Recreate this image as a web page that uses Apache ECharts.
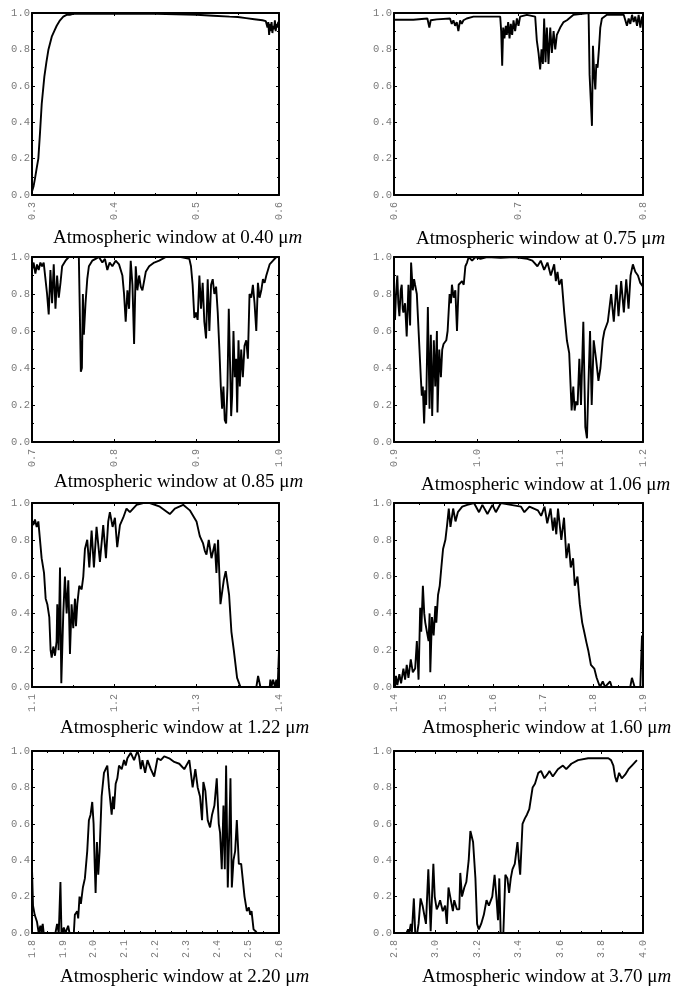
<!DOCTYPE html>
<html>
<head>
<meta charset="utf-8">
<script src="https://cdn.jsdelivr.net/npm/echarts@6/dist/echarts.min.js"></script>
<style>
html,body{margin:0;padding:0;background:#fff;}
#chart{width:673px;height:988px;}
</style>
</head>
<body>
<div id="chart"></div>
<script>
// ---------- DATA ----------
const captions = ['0.40', '0.75', '0.85', '1.06', '1.22', '1.60', '2.20', '3.70'];
const xMins = [0.3, 0.6, 0.7, 0.9, 1.1, 1.4, 1.8, 2.8];
const xMaxs = [0.6, 0.8, 1.0, 1.2, 1.4, 1.9, 2.6, 4.0];
const xSteps = [0.1, 0.1, 0.1, 0.1, 0.1, 0.1, 0.1, 0.2];
const yTicks = [0.0, 0.2, 0.4, 0.6, 0.8, 1.0];

const wl1 = [0.300,0.302,0.3036,0.3058,0.3077,0.3097,0.3118,0.315,0.3175,0.320,0.324,0.327,0.330,0.334,0.338,0.342,0.346,0.35,0.36,0.40,0.45,0.50,0.52,0.54,0.55,0.56,0.57,0.575,0.58,0.584,0.586,0.587,0.588,0.589,0.590,0.591,0.592,0.593,0.594,0.595,0.596,0.597,0.598,0.599,0.600];
const tr1 = [0.02,0.05,0.09,0.15,0.20,0.34,0.50,0.65,0.73,0.80,0.87,0.90,0.93,0.96,0.98,0.99,0.99,0.995,0.995,0.995,0.995,0.99,0.985,0.98,0.978,0.972,0.966,0.963,0.96,0.955,0.92,0.95,0.88,0.94,0.90,0.95,0.89,0.93,0.91,0.96,0.90,0.94,0.92,0.95,0.95];

const wl2 = [0.6,0.6155,0.6169,0.6268,0.6284,0.6295,0.6343,0.6450,0.6464,0.6477,0.6491,0.6504,0.6517,0.6531,0.6544,0.6558,0.6584,0.6638,0.6853,0.6861,0.6869,0.6877,0.6887,0.6898,0.6906,0.6917,0.6928,0.6938,0.6949,0.6960,0.6973,0.6987,0.7000,0.7013,0.7067,0.7134,0.7147,0.7161,0.7174,0.7185,0.7196,0.7206,0.7217,0.7228,0.7241,0.7255,0.7268,0.7282,0.7295,0.7308,0.7335,0.7362,0.7389,0.7442,0.7563,0.7571,0.7582,0.7590,0.7598,0.7609,0.7617,0.7625,0.7635,0.7646,0.7657,0.7670,0.7710,0.7845,0.7858,0.7871,0.7885,0.7898,0.7912,0.7925,0.7938,0.7952,0.7965,0.7979,0.7992,0.8000];
const tr2 = [0.963,0.963,0.97,0.97,0.92,0.96,0.965,0.97,0.94,0.96,0.93,0.95,0.90,0.96,0.94,0.96,0.97,0.98,0.98,0.90,0.71,0.92,0.86,0.93,0.88,0.95,0.86,0.94,0.88,0.96,0.90,0.97,0.93,0.98,0.99,0.98,0.85,0.78,0.69,0.80,0.72,0.97,0.73,0.92,0.72,0.92,0.78,0.90,0.80,0.88,0.92,0.95,0.96,0.99,1.0,0.66,0.50,0.38,0.82,0.65,0.58,0.72,0.70,0.80,0.92,0.97,0.99,0.99,0.96,0.93,0.97,0.94,0.99,0.95,0.98,0.93,0.99,0.92,0.98,0.97];

const wl3 = [0.7,0.7020,0.7041,0.7061,0.7081,0.7102,0.7122,0.7142,0.7163,0.7183,0.7203,0.7224,0.7244,0.7264,0.7285,0.7305,0.7325,0.7346,0.7366,0.7407,0.7447,0.7569,0.7581,0.7593,0.7606,0.7618,0.7630,0.7650,0.7671,0.7691,0.7732,0.7772,0.7813,0.7854,0.7886,0.7915,0.7943,0.7976,0.8016,0.8057,0.8098,0.8118,0.8138,0.8159,0.8179,0.8199,0.8220,0.8240,0.8260,0.8280,0.8301,0.8321,0.8341,0.8382,0.8423,0.8484,0.8545,0.8626,0.8707,0.8809,0.8911,0.8931,0.8951,0.8972,0.8992,0.9012,0.9033,0.9053,0.9073,0.9093,0.9114,0.9134,0.9154,0.9175,0.9195,0.9215,0.9236,0.9256,0.9276,0.9293,0.9309,0.9325,0.9341,0.9358,0.9374,0.9390,0.9407,0.9419,0.9431,0.9447,0.9463,0.9480,0.9492,0.9508,0.9524,0.9541,0.9561,0.9581,0.9602,0.9622,0.9642,0.9663,0.9683,0.9703,0.9724,0.9744,0.9764,0.9785,0.9805,0.9825,0.9846,0.9866,0.9886,0.9907,0.9927,0.9967,1.0];
const tr3 = [0.93,0.97,0.91,0.96,0.93,0.97,0.95,0.97,0.96,0.80,0.69,0.93,0.75,0.96,0.72,0.90,0.78,0.86,0.95,0.98,1.0,1.0,0.70,0.38,0.40,0.80,0.58,0.75,0.88,0.95,0.98,0.99,1.0,0.97,0.99,0.93,0.97,0.95,0.98,0.96,0.90,0.80,0.65,0.82,0.72,0.98,0.85,0.53,0.95,0.82,0.90,0.84,0.82,0.92,0.95,0.97,0.98,1.0,1.0,1.0,0.99,0.95,0.85,0.67,0.70,0.66,0.90,0.72,0.86,0.65,0.56,0.88,0.60,0.85,0.88,0.80,0.84,0.70,0.50,0.30,0.18,0.30,0.12,0.10,0.30,0.72,0.40,0.14,0.25,0.60,0.35,0.45,0.16,0.55,0.30,0.50,0.35,0.52,0.55,0.45,0.80,0.78,0.85,0.75,0.60,0.86,0.78,0.82,0.88,0.86,0.90,0.93,0.96,0.95,0.98,1.0,1.0];

const wl4 = [0.9000,0.9012,0.9024,0.9040,0.9052,0.9065,0.9081,0.9093,0.9105,0.9113,0.9133,0.9153,0.9174,0.9186,0.9194,0.9206,0.9226,0.9242,0.9254,0.9275,0.9291,0.9307,0.9323,0.9335,0.9347,0.9363,0.9375,0.9388,0.9408,0.9428,0.9444,0.9460,0.9480,0.9497,0.9517,0.9525,0.9545,0.9565,0.9581,0.9597,0.9630,0.9646,0.9670,0.9686,0.9698,0.9719,0.9739,0.9759,0.9779,0.9820,0.9840,0.9860,0.9880,0.9900,0.9941,0.9981,1.0042,1.0122,1.0284,1.0445,1.0607,1.0667,1.0728,1.0768,1.0809,1.0849,1.0889,1.0930,1.0950,1.0970,1.0990,1.1019,1.1051,1.1083,1.1111,1.1140,1.1160,1.1176,1.1192,1.1212,1.1233,1.1253,1.1281,1.1305,1.1325,1.1342,1.1362,1.1382,1.1406,1.1434,1.1463,1.1487,1.1515,1.1535,1.1576,1.1616,1.1648,1.1680,1.1705,1.1737,1.1769,1.1798,1.1826,1.1850,1.1878,1.1907,1.1939,1.1967,1.2000];
const tr4 = [0.70,0.66,0.80,0.90,0.75,0.68,0.82,0.85,0.72,0.70,0.75,0.57,0.85,0.72,0.63,0.97,0.82,0.88,0.85,0.80,0.65,0.50,0.35,0.25,0.30,0.10,0.28,0.20,0.73,0.18,0.58,0.14,0.55,0.30,0.60,0.16,0.50,0.35,0.50,0.53,0.55,0.60,0.80,0.75,0.85,0.78,0.82,0.60,0.85,0.87,0.85,0.95,0.97,1.0,0.98,1.0,0.99,1.0,0.995,1.0,0.99,0.98,0.95,0.98,0.93,0.97,0.90,0.96,0.87,0.92,0.85,0.88,0.70,0.55,0.48,0.17,0.30,0.17,0.22,0.20,0.45,0.20,0.65,0.08,0.02,0.30,0.60,0.20,0.55,0.45,0.33,0.40,0.55,0.60,0.65,0.80,0.65,0.85,0.68,0.87,0.70,0.88,0.72,0.90,0.96,0.92,0.90,0.86,0.84];

const wl5 = [1.1000,1.1016,1.1036,1.1057,1.1077,1.1097,1.1117,1.1146,1.1166,1.1186,1.1210,1.1226,1.1239,1.1259,1.1279,1.1299,1.1307,1.1323,1.1340,1.1356,1.1380,1.1400,1.1421,1.1441,1.1461,1.1481,1.1501,1.1522,1.1534,1.1550,1.1574,1.1603,1.1623,1.1643,1.1671,1.1696,1.1724,1.1752,1.1784,1.1825,1.1865,1.1898,1.1926,1.1946,1.1979,1.2007,1.2035,1.2068,1.2108,1.2148,1.2189,1.2270,1.2351,1.2431,1.2553,1.2674,1.2735,1.2836,1.2917,1.2998,1.3038,1.3078,1.3099,1.3119,1.3147,1.3180,1.3220,1.3240,1.3260,1.3289,1.3329,1.3353,1.3394,1.3422,1.3451,1.3491,1.3532,1.3725,1.3746,1.3774,1.3887,1.3895,1.3908,1.3928,1.3952,1.3968,1.3984,1.4000];
const tr5 = [0.90,0.88,0.91,0.87,0.90,0.89,0.70,0.62,0.48,0.45,0.38,0.20,0.16,0.22,0.17,0.25,0.45,0.20,0.65,0.02,0.40,0.60,0.40,0.58,0.18,0.45,0.32,0.48,0.33,0.45,0.55,0.53,0.60,0.75,0.80,0.65,0.85,0.65,0.87,0.68,0.88,0.70,0.90,0.95,0.87,0.92,0.76,0.88,0.92,0.97,0.95,0.99,1.0,1.0,0.98,0.94,0.97,0.99,0.96,0.90,0.82,0.78,0.74,0.72,0.80,0.70,0.78,0.62,0.80,0.45,0.58,0.63,0.50,0.30,0.20,0.05,0.0,0.0,0.06,0.0,0.0,0.04,0.0,0.04,0.0,0.04,0.0,0.20];

const wl6 = [1.4000,1.4020,1.4040,1.4067,1.4108,1.4142,1.4189,1.4223,1.4256,1.4290,1.4337,1.4378,1.4425,1.4459,1.4493,1.4526,1.4547,1.4580,1.4607,1.4628,1.4661,1.4695,1.4715,1.4729,1.4762,1.4796,1.4830,1.4850,1.4884,1.4918,1.4951,1.4985,1.5032,1.5066,1.5100,1.5134,1.5188,1.5235,1.5282,1.5370,1.5471,1.5606,1.5707,1.5775,1.5876,1.5977,1.6045,1.6146,1.6348,1.6551,1.6618,1.6719,1.6888,1.6955,1.7023,1.7077,1.7144,1.7192,1.7225,1.7259,1.7293,1.7360,1.7414,1.7462,1.7509,1.7549,1.7596,1.7630,1.7684,1.7731,1.7779,1.7819,1.7866,1.7900,1.7954,1.8022,1.8069,1.8136,1.8192,1.8238,1.8339,1.8373,1.8744,1.8778,1.8831,1.8946,1.8980,1.9000];
const tr6 = [0.03,0.0,0.06,0.01,0.07,0.02,0.10,0.04,0.12,0.05,0.15,0.08,0.10,0.25,0.04,0.43,0.30,0.55,0.40,0.35,0.30,0.25,0.40,0.08,0.38,0.28,0.44,0.35,0.50,0.55,0.65,0.75,0.80,0.88,0.97,0.87,0.97,0.90,0.95,0.98,0.99,1.0,0.95,0.99,0.94,0.99,0.95,1.0,0.99,0.98,0.95,0.98,0.96,0.93,0.98,0.89,0.97,0.85,0.92,0.83,0.97,0.80,0.92,0.70,0.78,0.65,0.70,0.55,0.60,0.45,0.35,0.30,0.24,0.20,0.12,0.10,0.05,0.0,0.03,0.0,0.03,0.0,0.0,0.05,0.0,0.0,0.28,0.22];

const wl7 = [1.8000,1.8033,1.8087,1.8130,1.8163,1.8217,1.8271,1.8304,1.8347,1.8379,1.8759,1.8813,1.8867,1.8921,1.8954,1.9030,1.9084,1.9171,1.9214,1.9355,1.9388,1.9463,1.9496,1.9539,1.9583,1.9648,1.9713,1.9789,1.9843,1.9897,1.9951,1.9995,2.0027,2.0060,2.0103,2.0146,2.0190,2.0255,2.0331,2.0385,2.0439,2.0493,2.0580,2.0623,2.0656,2.0710,2.0764,2.0818,2.0905,2.0981,2.1035,2.1089,2.1198,2.1306,2.1415,2.1469,2.1523,2.1577,2.1664,2.1740,2.1848,2.1957,2.2065,2.2173,2.2282,2.2444,2.2607,2.2770,2.2932,2.3095,2.3203,2.3290,2.3366,2.3442,2.3507,2.3550,2.3615,2.3691,2.3767,2.3832,2.3908,2.3984,2.4049,2.4092,2.4146,2.4201,2.4244,2.4287,2.4341,2.4396,2.4428,2.4472,2.4526,2.4580,2.4634,2.4699,2.4775,2.4883,2.4959,2.5024,2.5068,2.5111,2.5176,2.5241,2.5285];
const tr7 = [0.35,0.15,0.10,0.09,0.06,0.0,0.04,0.0,0.05,0.0,0.0,0.05,0.0,0.28,0.0,0.03,0.0,0.04,0.0,0.0,0.10,0.12,0.08,0.20,0.16,0.25,0.30,0.45,0.62,0.65,0.72,0.60,0.40,0.22,0.50,0.32,0.45,0.75,0.88,0.90,0.92,0.80,0.65,0.75,0.68,0.82,0.85,0.92,0.90,0.95,0.92,0.96,0.99,0.95,1.0,0.97,0.90,0.95,0.88,0.95,0.90,0.86,0.96,0.95,0.97,0.96,0.94,0.93,0.90,0.95,0.80,0.90,0.80,0.75,0.62,0.83,0.78,0.62,0.58,0.65,0.70,0.85,0.60,0.55,0.35,0.70,0.35,0.92,0.25,0.60,0.85,0.25,0.40,0.45,0.62,0.38,0.38,0.20,0.12,0.14,0.10,0.12,0.02,0.01,0.0];

const wl8 = [2.8000,2.8600,2.8681,2.8730,2.8811,2.8859,2.8957,2.9022,2.9119,2.9184,2.9281,2.9378,2.9459,2.9540,2.9654,2.9767,2.9832,2.9897,2.9962,3.0059,3.0140,3.0221,3.0351,3.0465,3.0546,3.0627,3.0708,3.0838,3.0903,3.1032,3.1146,3.1194,3.1276,3.1389,3.1486,3.1600,3.1681,3.1811,3.1924,3.2005,3.2086,3.2200,3.2329,3.2459,3.2573,3.2735,3.2848,3.2946,3.3011,3.3075,3.3140,3.3270,3.3367,3.3465,3.3546,3.3627,3.3708,3.3821,3.3951,3.4016,3.4081,3.4194,3.4308,3.4405,3.4519,3.4681,3.4794,3.4956,3.5086,3.5248,3.5378,3.5491,3.5654,3.5897,3.6140,3.6302,3.6546,3.6870,3.7357,3.7843,3.8329,3.8459,3.8572,3.8653,3.8734,3.8848,3.8978,3.9140,3.9302,3.9465,3.9708];
const tr8 = [0.0,0.0,0.02,0.0,0.05,0.0,0.19,0.0,0.0,0.05,0.19,0.15,0.10,0.05,0.35,0.01,0.20,0.38,0.20,0.13,0.15,0.18,0.12,0.15,0.05,0.25,0.20,0.12,0.18,0.13,0.13,0.33,0.20,0.25,0.28,0.40,0.56,0.50,0.30,0.05,0.02,0.05,0.10,0.18,0.15,0.20,0.32,0.18,0.07,0.30,0.0,0.0,0.32,0.30,0.22,0.30,0.35,0.38,0.50,0.40,0.32,0.60,0.63,0.65,0.68,0.80,0.82,0.88,0.89,0.85,0.87,0.89,0.86,0.90,0.92,0.90,0.93,0.95,0.96,0.96,0.96,0.95,0.92,0.86,0.83,0.88,0.85,0.87,0.90,0.92,0.95];

const wls = [wl1, wl2, wl3, wl4, wl5, wl6, wl7, wl8];
const trs = [tr1, tr2, tr3, tr4, tr5, tr6, tr7, tr8];

// ---------- LAYOUT ----------
const colLeft = [32, 394];
const colWidth = [247, 249];
const rowTop = [13, 257, 503, 751];
const rowHeight = [182, 185, 184, 182];
const capX = [53, 416, 54, 421, 60, 422, 60, 422];
const capY = [238, 239, 482, 485, 728, 728, 977, 977];

const LABEL_FONT = 'Liberation Mono';
const LABEL_COLOR = '#7a7a7a';

const grids = [], xAxes = [], yAxes = [], series = [], graphics = [];
for (let i = 0; i < 8; i++) {
  const c = i % 2, r = Math.floor(i / 2);
  grids.push({left: colLeft[c], top: rowTop[r], width: colWidth[c], height: rowHeight[r], containLabel: false, outerBoundsMode: 'none'});
  const axLine = {show: true, onZero: false, lineStyle: {color: '#000', width: 2}};
  const tick = {show: true, inside: true, length: 3, lineStyle: {color: '#000', width: 1}};
  const minor = {show: true, splitNumber: 2, length: 2, lineStyle: {color: '#000', width: 1}};
  xAxes.push({
    type: 'value', gridIndex: i, position: 'bottom',
    min: xMins[i], max: xMaxs[i], interval: xSteps[i],
    axisLine: axLine, axisTick: tick, minorTick: minor, splitLine: {show: false},
    axisLabel: {show: true, rotate: 90, margin: 7, fontFamily: LABEL_FONT, fontSize: 10, color: LABEL_COLOR,
      showMinLabel: true, showMaxLabel: true, formatter: v => v.toFixed(1)}
  });
  xAxes.push({
    type: 'value', gridIndex: i, position: 'top',
    min: xMins[i], max: xMaxs[i], interval: xSteps[i],
    axisLine: axLine, axisTick: tick, minorTick: minor, splitLine: {show: false},
    axisLabel: {show: false}
  });
  yAxes.push({
    type: 'value', gridIndex: i, position: 'left',
    min: yTicks[0], max: yTicks[yTicks.length - 1], interval: yTicks[1] - yTicks[0],
    axisLine: axLine, axisTick: tick, minorTick: minor, splitLine: {show: false},
    axisLabel: {show: true, margin: 2, fontFamily: LABEL_FONT, fontSize: 10.5, color: LABEL_COLOR,
      showMinLabel: true, showMaxLabel: true, formatter: v => v.toFixed(1)}
  });
  yAxes.push({
    type: 'value', gridIndex: i, position: 'right',
    min: yTicks[0], max: yTicks[yTicks.length - 1], interval: yTicks[1] - yTicks[0],
    axisLine: axLine, axisTick: tick, minorTick: minor, splitLine: {show: false},
    axisLabel: {show: false}
  });
  series.push({
    type: 'line', xAxisIndex: 2 * i, yAxisIndex: 2 * i,
    data: wls[i].map((x, k) => [x, trs[i][k]]),
    showSymbol: false, symbol: 'none', smooth: false, clip: true,
    lineStyle: {color: '#000', width: 1.9}, animation: false
  });
  graphics.push({
    type: 'text', x: capX[i], y: capY[i],
    style: {
      text: '{a|Atmospheric window at ' + captions[i] + ' μ}{b|m}',
      textAlign: 'left', textVerticalAlign: 'middle',
      rich: {
        a: {fontFamily: 'Liberation Serif', fontSize: 19, fill: '#000', color: '#000'},
        b: {fontFamily: 'Liberation Serif', fontSize: 19, fontStyle: 'italic', fill: '#000', color: '#000'}
      }
    }
  });
}

const chart = echarts.init(document.getElementById('chart'), null, {renderer: 'canvas'});
chart.setOption({
  animation: false,
  backgroundColor: '#fff',
  grid: grids,
  xAxis: xAxes,
  yAxis: yAxes,
  series: series,
  graphic: graphics
});
</script>
</body>
</html>
